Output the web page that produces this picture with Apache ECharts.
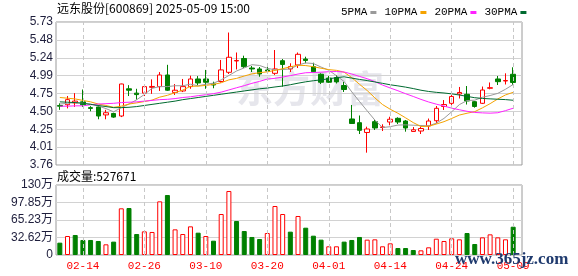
<!DOCTYPE html>
<html><head><meta charset="utf-8">
<script src="https://cdn.jsdelivr.net/npm/echarts@6/dist/echarts.min.js"></script>
<style>html,body{margin:0;padding:0;background:#fff}#c{width:578px;height:276px}</style>
</head><body><div id="c"></div>
<script>
const dates = ['02-11','02-12','02-13','02-14','02-17','02-18','02-19','02-20','02-21','02-24','02-25','02-26','02-27','02-28','03-03','03-04','03-05','03-06','03-07','03-10','03-11','03-12','03-13','03-14','03-17','03-18','03-19','03-20','03-21','03-24','03-25','03-26','03-27','03-28','03-31','04-01','04-02','04-03','04-07','04-08','04-09','04-10','04-11','04-14','04-15','04-16','04-17','04-18','04-21','04-22','04-23','04-24','04-25','04-28','04-29','04-30','05-06','05-07','05-08','05-09'];
const tickDates = ['02-14','02-26','03-10','03-20','04-01','04-14','04-24','05-09'];
const opens  = [4.58,4.59,4.615,4.63,4.55,4.56,4.45,4.47,4.435,4.81,4.75,4.75,4.83,4.84,5.00,4.76,4.78,4.84,4.945,4.945,4.876,4.91,5.037,5.193,5.227,5.096,5.083,5.069,5.023,5.197,5.083,5.138,5.22,5.114,5.01,4.958,4.965,4.855,4.394,4.343,4.208,4.357,4.277,4.352,4.403,4.366,4.222,4.228,4.297,4.37,4.566,4.61,4.738,4.734,4.632,4.61,4.817,4.945,4.917,5.01];
const closes = [4.57,4.66,4.64,4.59,4.54,4.435,4.48,4.42,4.876,4.79,4.73,4.84,4.842,5.00,4.79,4.79,4.84,4.945,4.89,4.90,4.862,5.07,5.244,5.20,5.114,5.083,5.014,5.055,5.083,5.145,5.117,5.285,5.20,5.045,4.90,4.90,4.905,4.80,4.332,4.238,4.256,4.27,4.284,4.39,4.352,4.27,4.245,4.263,4.366,4.541,4.593,4.703,4.759,4.642,4.566,4.793,4.825,4.908,4.924,4.897];
const lows   = [4.52,4.54,4.56,4.56,4.50,4.39,4.39,4.41,4.42,4.71,4.66,4.71,4.74,4.78,4.78,4.725,4.765,4.81,4.86,4.81,4.817,4.894,5.014,5.076,5.096,5.041,4.976,5.027,5.00,4.839,5.041,5.096,5.161,5.04,4.876,4.89,4.883,4.766,4.325,4.187,3.93,4.242,4.228,4.307,4.325,4.219,4.219,4.187,4.242,4.334,4.518,4.587,4.676,4.593,4.55,4.60,4.803,4.862,4.869,4.862];
const highs  = [4.61,4.71,4.75,4.80,4.57,4.585,4.52,4.48,4.88,4.86,4.81,4.855,4.94,5.04,5.14,4.875,4.945,4.99,4.985,5.07,4.908,5.207,5.585,5.31,5.266,5.124,5.11,5.124,5.344,5.22,5.161,5.31,5.252,5.169,5.023,4.986,5.0,4.903,4.587,4.442,4.288,4.38,4.321,4.425,4.417,4.38,4.283,4.29,4.40,4.573,4.655,4.759,4.835,4.848,4.642,4.841,4.897,4.986,5.023,5.106];
const volumes = [230000,354000,373000,280000,280000,261000,199000,249000,870000,876000,391000,441000,429000,1000000,1118000,478000,391000,534000,416000,354000,267000,764000,1193000,634000,447000,336000,298000,410000,913000,764000,435000,727000,509000,360000,286000,162000,162000,249000,280000,336000,286000,292000,162000,217000,130000,130000,93000,87000,143000,304000,261000,311000,292000,410000,205000,329000,385000,329000,292000,527671];
const prevClose = 4.60;
const ma5  = [4.60,4.61,4.62,4.61,4.600,4.573,4.537,4.493,4.550,4.600,4.659,4.731,4.816,4.840,4.840,4.852,4.852,4.873,4.851,4.873,4.887,4.933,4.993,5.055,5.098,5.142,5.131,5.093,5.070,5.076,5.083,5.137,5.166,5.158,5.109,5.066,4.990,4.910,4.767,4.635,4.506,4.379,4.276,4.288,4.310,4.313,4.308,4.304,4.299,4.337,4.402,4.493,4.592,4.648,4.653,4.693,4.717,4.747,4.803,4.869];
const ma10 = [4.69,4.68,4.67,4.65,4.63,4.60,4.58,4.555,4.57,4.600,4.616,4.634,4.654,4.695,4.720,4.756,4.792,4.844,4.846,4.857,4.870,4.893,4.933,4.953,4.986,5.015,5.032,5.043,5.063,5.087,5.113,5.134,5.130,5.114,5.093,5.074,5.064,5.038,4.963,4.872,4.786,4.685,4.593,4.528,4.473,4.410,4.344,4.290,4.293,4.324,4.357,4.401,4.448,4.473,4.495,4.547,4.605,4.670,4.725,4.761];
const ma20 = [4.57,4.57,4.575,4.575,4.59,4.60,4.605,4.61,4.62,4.625,4.63,4.64,4.65,4.66,4.665,4.675,4.69,4.70,4.715,4.728,4.743,4.764,4.794,4.824,4.853,4.885,4.912,4.944,4.954,4.972,4.991,5.013,5.031,5.034,5.039,5.045,5.048,5.041,5.013,4.980,4.949,4.909,4.861,4.821,4.783,4.742,4.704,4.664,4.628,4.598,4.572,4.543,4.521,4.500,4.484,4.478,4.474,4.480,4.509,4.542];
const ma30 = [4.63,4.625,4.62,4.61,4.595,4.58,4.565,4.55,4.55,4.555,4.565,4.58,4.595,4.61,4.625,4.64,4.66,4.675,4.69,4.705,4.72,4.735,4.75,4.765,4.78,4.795,4.81,4.82,4.835,4.848,4.866,4.887,4.906,4.921,4.933,4.948,4.963,4.975,4.957,4.939,4.923,4.904,4.885,4.865,4.850,4.833,4.813,4.790,4.773,4.761,4.752,4.740,4.724,4.705,4.687,4.677,4.671,4.666,4.661,4.652];
const priceTickLabels = ['3.76','4.01','4.25','4.50','4.75','4.99','5.24','5.48','5.73'];
const volTickLabels = ['0','32.62万','65.23万','97.85万','130万'];
const priceMin = 3.76, priceMax = 5.73, priceStep = 0.24625;
const volMax = 1304700, volStep = 326175;

const RED = '#ff0000', GREEN = '#008000';
const chart = echarts.init(document.getElementById('c'), null, {renderer: 'canvas'});

const candleData = dates.map((d, i) => [opens[i], closes[i], lows[i], highs[i]]);
const volData = volumes.map((v, i) => {
  const pc = i ? closes[i - 1] : prevClose;
  const up = closes[i] >= pc;
  return {value: v, itemStyle: up ? {color: '#ffffff', borderColor: RED, borderWidth: 1} : {color: GREEN, borderColor: GREEN, borderWidth: 1}};
});
const vLines = (xi, yi) => ({
  type: 'line', xAxisIndex: xi, yAxisIndex: yi, data: [], z: 1, silent: true,
  markLine: {silent: true, symbol: ['none', 'none'], animation: false, label: {show: false},
    lineStyle: {color: '#c8c8c8', type: [4, 3], width: 1},
    emphasis: {disabled: true},
    data: tickDates.map(d => ({xAxis: d}))}
});
const maSeries = (name, data, color) => ({
  name, type: 'line', data, xAxisIndex: 0, yAxisIndex: 0, showSymbol: false, symbol: 'none',
  color, lineStyle: {color, width: 1}, z: 4, silent: true
});
const labelFont = {color: '#1e1e3c', fontSize: 12, fontFamily: '"Liberation Sans","Noto Sans CJK SC",sans-serif'};

chart.setOption({
  animation: false,
  backgroundColor: '#ffffff',
  grid: [
    {left: 56, top: 22, width: 461, height: 143, outerBoundsMode: 'none'},
    {left: 56, top: 185, width: 461, height: 70, outerBoundsMode: 'none'},
    {left: 56, top: 22, width: 466, height: 143, show: true, borderColor: '#9a9a9a', borderWidth: 1, outerBoundsMode: 'none'},
    {left: 56, top: 185, width: 466, height: 70, show: true, borderColor: '#9a9a9a', borderWidth: 1, outerBoundsMode: 'none'}
  ],
  legend: {
    data: ['5PMA', '10PMA', '20PMA', '30PMA'], left: 336, top: 2, align: 'right', icon: 'rect',
    itemWidth: 6, itemHeight: 3, itemGap: 8, selectedMode: false,
    textStyle: {fontFamily: '"Liberation Mono",monospace', fontSize: 11, color: '#000', padding: [0, -2, 0, 0]}
  },
  xAxis: [
    {type: 'category', gridIndex: 0, data: dates, show: false},
    {type: 'category', gridIndex: 1, data: dates, axisLine: {show: false}, axisTick: {show: false}, splitLine: {show: false},
      axisLabel: {interval: (idx, val) => tickDates.includes(val), color: RED, fontSize: 11, fontFamily: '"Liberation Mono",monospace', margin: 6}},
    {type: 'value', gridIndex: 2, min: 0, max: 1, show: false},
    {type: 'value', gridIndex: 3, min: 0, max: 1, show: false}
  ],
  yAxis: [
    {type: 'value', gridIndex: 0, min: priceMin, max: priceMax, show: false},
    {type: 'value', gridIndex: 1, min: 0, max: volMax, show: false},
    {type: 'value', gridIndex: 2, min: priceMin, max: priceMax, interval: priceStep,
      axisLine: {show: false}, axisTick: {show: false},
      splitLine: {lineStyle: {color: '#d2d2d2', width: 1}},
      axisLabel: Object.assign({margin: 3, formatter: v => priceTickLabels[Math.round((v - priceMin) / priceStep)]}, labelFont)},
    {type: 'value', gridIndex: 3, min: 0, max: volMax, interval: volStep,
      axisLine: {show: false}, axisTick: {show: false},
      splitLine: {lineStyle: {color: '#d2d2d2', width: 1}},
      axisLabel: Object.assign({margin: 3, formatter: v => volTickLabels[Math.round(v / volStep)]}, labelFont)}
  ],
  graphic: [
    {type: 'text', left: 57, top: 2, z: 10, style: {text: '远东股份[600869] 2025-05-09 15:00', font: '12px "Noto Sans CJK SC"', fill: '#000'}},
    {type: 'text', left: 57, top: 170, z: 10, style: {text: '成交量:' + volumes[volumes.length - 1], font: '12px "Noto Sans CJK SC"', fill: '#000'}},
    {type: 'text', left: 236, top: 70, z: 0, silent: true, style: {text: '东方财富', font: 'bold 37px "Noto Sans CJK SC"', fill: '#e6e6ec'}},
    {type: 'text', left: 455, top: 251, z: 20, silent: true, style: {text: 'www.365jz.com', font: 'bold 17px "Liberation Serif"', fill: '#1f3a6e'}}
  ],
  series: [
    vLines(0, 0),
    vLines(1, 1),
    {type: 'candlestick', name: 'K', xAxisIndex: 0, yAxisIndex: 0, data: candleData, barWidth: 5, z: 3, silent: true,
      itemStyle: {color: '#ffffff', color0: GREEN, borderColor: RED, borderColor0: GREEN, borderWidth: 1}},
    maSeries('5PMA', ma5, '#9a9a9a'),
    maSeries('10PMA', ma10, '#f5a300'),
    maSeries('20PMA', ma20, '#ff22ff'),
    maSeries('30PMA', ma30, '#006a30'),
    {type: 'bar', name: 'VOL', xAxisIndex: 1, yAxisIndex: 1, data: volData, barWidth: 5, z: 3, silent: true}
  ]
});
</script></body></html>
